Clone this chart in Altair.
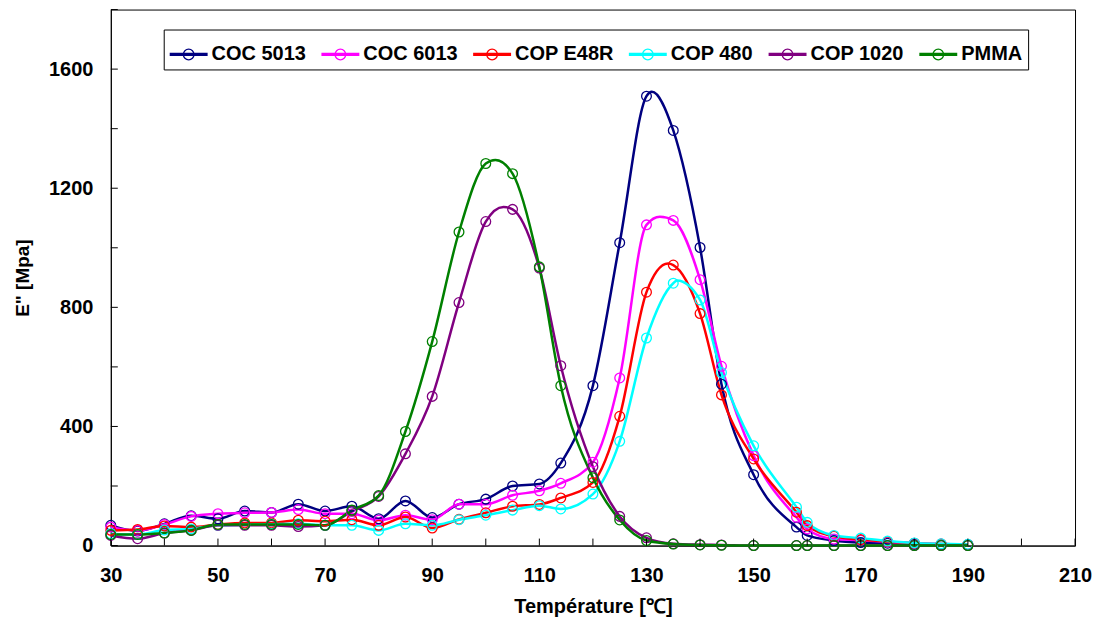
import altair as alt
import pandas as pd

# ---------------- data ----------------
temps = [30, 35, 40, 45, 50, 55, 60, 65, 70, 75, 80, 85, 90, 95, 100, 105, 110, 114,
         120, 125, 130, 135, 140, 144, 150, 158, 160, 165, 170, 175, 180, 185, 190]

series_names = ["COC 5013", "COC 6013", "COP E48R", "COP 480", "COP 1020", "PMMA"]
series_colors = ["#000080", "#FF00FF", "#FF0000", "#00FFFF", "#800080", "#008000"]

coc5013 = [68, 49, 73, 100, 90, 116, 111, 139, 116, 132, 90, 150, 94, 139, 156, 200, 207, 277,
           537, 1017, 1509, 1394, 1001, 542, 238, 62, 34, 17, 10, 8, 4, 3, 3]
coc6013 = [62, 51, 71, 98, 107, 110, 111, 121, 107, 107, 85, 102, 87, 139, 139, 169, 184, 209,
           280, 563, 1077, 1092, 893, 602, 302, 95, 56, 22, 18, 12, 8, 5, 3]
cope48r = [51, 54, 66, 62, 71, 76, 76, 85, 82, 87, 68, 96, 59, 88, 110, 132, 138, 160,
           212, 434, 851, 942, 779, 506, 291, 112, 67, 31, 20, 13, 8, 5, 3]
cop480 = [40, 37, 52, 56, 68, 70, 72, 73, 68, 68, 51, 73, 68, 87, 102, 119, 134, 123,
          173, 350, 697, 881, 825, 581, 335, 129, 78, 34, 25, 15, 9, 6, 4]
cop1020 = [34, 23, 42, 51, 68, 68, 68, 64, 68, 115, 165, 308, 501, 816, 1088, 1129, 932, 604,
           265, 98, 26, 6, 3, 2, 0, 0, 0, 0, 0, 0, 0, 0, 0]
pmma = [37, 37, 42, 51, 71, 71, 71, 71, 68, 119, 168, 383, 685, 1053, 1283, 1249, 936, 537,
        228, 86, 17, 5, 2, 1, 0, 0, 0, 0, 0, 0, 0, 0, 0]

# curve maxima between markers (line only, no marker)
peak_temps = [131, 132.5, 134, 135.7, 103.3, 101.8]
peak_values = [1524, 1104, 947, 890, 1137, 1295]

x_tick_values = list(range(30, 211, 10))
x_label_values = list(range(30, 211, 20))
y_tick_values = list(range(0, 1801, 200))
y_label_values = list(range(0, 1601, 400))

# ---------------- tables ----------------
all_values = [coc5013, coc6013, cope48r, cop480, cop1020, pmma]
rows = []
for k, (name, vals) in enumerate(zip(series_names, all_values)):
    for t, v in zip(temps, vals):
        rows.append({"Serie": name, "k": k, "T": t, "E": v})
marker_df = pd.DataFrame(rows)

peak_df = pd.DataFrame({"Serie": series_names, "k": list(range(6)),
                        "T": peak_temps, "E": peak_values})
line_df = pd.concat([marker_df, peak_df]).sort_values(["k", "T"]).reset_index(drop=True)

xtick_df = pd.DataFrame({"T": x_tick_values})
ytick_df = pd.DataFrame({"E": y_tick_values})

FONT = "Liberation Sans"

x_scale = alt.Scale(domain=[30, 210], nice=False, zero=False)
y_scale = alt.Scale(domain=[0, 1800], nice=False)
color_scale = alt.Scale(domain=series_names, range=series_colors)

legend_symbol = ("M-1,-0.052L1,-0.052M-1,0L1,0M-1,0.052L1,0.052"
                 "M-0.28,0A0.28,0.28,0,1,0,0.28,0A0.28,0.28,0,1,0,-0.28,0")

legend = alt.Legend(
    title=None, orient="none", legendX=53, legendY=20, direction="horizontal",
    symbolType=legend_symbol, symbolSize=1444, symbolStrokeWidth=1.3,
    symbolFillColor="transparent",
    labelFont=FONT, labelFontSize=20, labelFontWeight="bold", labelColor="black",
    labelOffset=3, columnPadding=12, padding=5, labelLimit=400,
    strokeColor="black", fillColor="white",
)

x_axis = alt.Axis(values=x_label_values, ticks=False, grid=False, format="d",
                  labelFont=FONT, labelFontSize=20, labelFontWeight="bold",
                  labelColor="black", labelPadding=20, labelFlush=False,
                  title="Température [℃]", titleFont=FONT, titleFontSize=20,
                  titleFontWeight="bold", titleColor="black", titlePadding=11,
                  domainColor="black", domainWidth=1)
y_axis = alt.Axis(values=y_label_values, ticks=False, grid=False, format="d",
                  labelFont=FONT, labelFontSize=20, labelFontWeight="bold",
                  labelColor="black", labelPadding=18,
                  title='E" [Mpa]', titleFont=FONT, titleFontSize=19,
                  titleFontWeight="bold", titleColor="black", titlePadding=16,
                  domainColor="black", domainWidth=1)

X = alt.X("T:Q", scale=x_scale, axis=x_axis)
Y = alt.Y("E:Q", scale=y_scale, axis=y_axis)

lines = alt.Chart(line_df).mark_line(interpolate="monotone", strokeWidth=2.5).encode(
    x=X, y=Y,
    color=alt.Color("Serie:N", scale=color_scale, legend=legend),
    detail="k:N",
)

points = alt.Chart(marker_df).mark_point(shape="circle", filled=False, size=95,
                                         strokeWidth=1.3, opacity=1).encode(
    x=X, y=Y,
    color=alt.Color("Serie:N", scale=color_scale, legend=None),
)

xticks = alt.Chart(xtick_df).mark_rule(color="black", strokeWidth=1, y2Offset=-7).encode(
    x=X,
    y=alt.datum(0),
    y2=alt.datum(0),
)

yticks = alt.Chart(ytick_df).mark_rule(color="black", strokeWidth=1, x2Offset=7).encode(
    y=Y,
    x=alt.datum(30),
    x2=alt.datum(30),
)

chart = alt.layer(lines, points, xticks, yticks).properties(
    width=966, height=537,
    padding={"left": 5, "top": 0, "right": 0, "bottom": 0},
    background="white",
).configure_view(stroke="black", strokeWidth=1)

chart.save("out.html", embed_options={"renderer": "svg", "actions": False})
